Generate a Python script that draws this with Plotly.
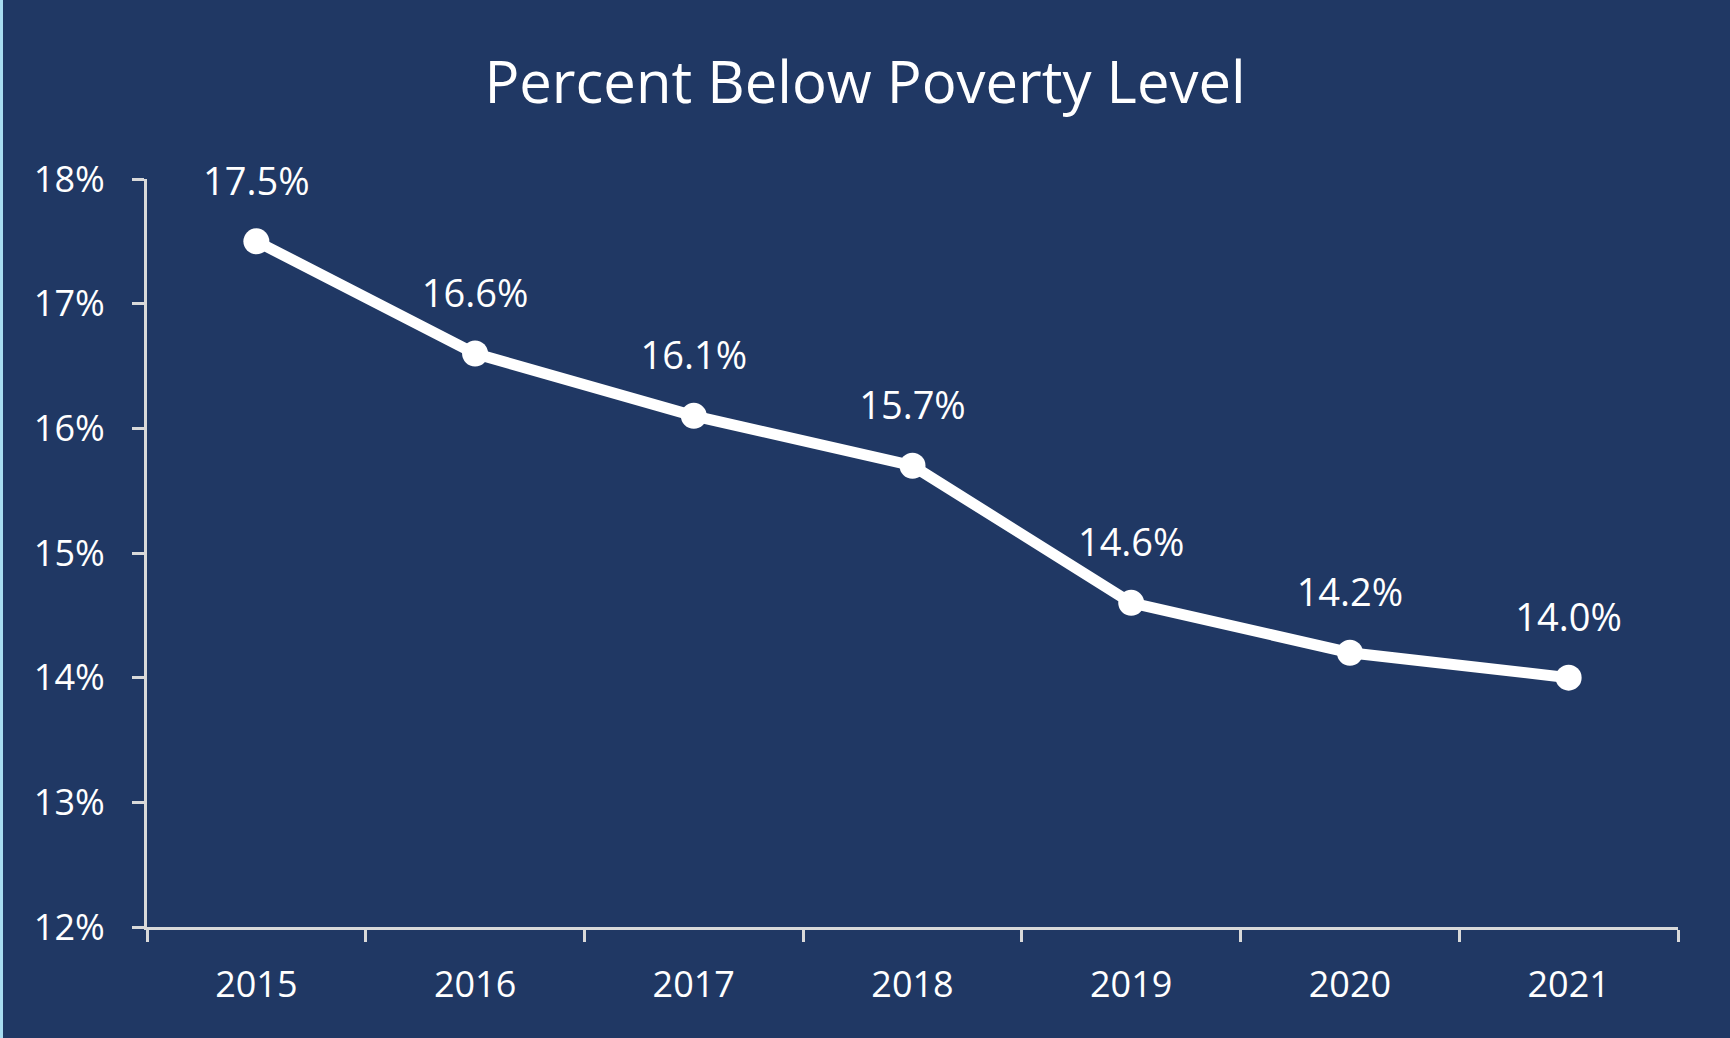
import plotly.graph_objects as go

years = ["2015", "2016", "2017", "2018", "2019", "2020", "2021"]
poverty_pct = [17.5, 16.6, 16.1, 15.7, 14.6, 14.2, 14.0]
labels = ["17.5%", "16.6%", "16.1%", "15.7%", "14.6%", "14.2%", "14.0%"]
y_ticks = [12, 13, 14, 15, 16, 17, 18]
y_tick_labels = ["12%", "13%", "14%", "15%", "16%", "17%", "18%"]

BG = "#203864"
FG = "#FFFFFF"
AX = "#D9D9D9"
FONT = "Open Sans"

fig = go.Figure()
fig.add_trace(go.Scatter(
    x=years, y=poverty_pct, mode="lines+markers",
    line=dict(color=FG, width=11),
    marker=dict(color=FG, size=26),
    hoverinfo="skip", showlegend=False, cliponaxis=False,
))
# data labels (invisible large markers give the label offset above each point)
fig.add_trace(go.Scatter(
    x=years, y=poverty_pct, mode="markers+text", text=labels, textposition="top center",
    marker=dict(size=58, color="rgba(0,0,0,0)"),
    textfont=dict(family=FONT, size=38, color=FG),
    hoverinfo="skip", showlegend=False, cliponaxis=False,
))

fig.update_layout(
    width=1730, height=1038,
    paper_bgcolor=BG, plot_bgcolor=BG,
    margin=dict(l=147, r=52, t=179, b=111),
    title=dict(text="Percent Below Poverty Level", x=0.5, xanchor="center",
               y=1 - 83 / 1038, yanchor="middle",
               font=dict(family=FONT, size=58, color=FG)),
    xaxis=dict(type="category", range=[-0.5, 6.5], showgrid=False, zeroline=False,
               showline=True, linecolor=AX, linewidth=3,
               ticks="outside", tickson="boundaries", ticklen=12, tickwidth=3, tickcolor=AX,
               tickfont=dict(family=FONT, size=36, color=FG), ticklabelstandoff=24),
    yaxis=dict(range=[12, 18], tickvals=y_ticks, ticktext=y_tick_labels,
               showgrid=False, zeroline=False,
               showline=True, linecolor=AX, linewidth=3,
               ticks="outside", ticklen=12, tickwidth=3, tickcolor=AX,
               tickfont=dict(family=FONT, size=36, color=FG), ticklabelstandoff=20),
    shapes=[dict(type="rect", xref="paper", yref="paper",
                 x0=-147 / 1531, x1=-144 / 1531, y0=-111 / 748, y1=1 + 179 / 748,
                 fillcolor="#A8DCF0", line=dict(width=0), layer="above")],
)

fig.write_html("out.html", config={"displayModeBar": False},
               post_script="document.body.style.margin='0';document.body.style.overflow='hidden';")
